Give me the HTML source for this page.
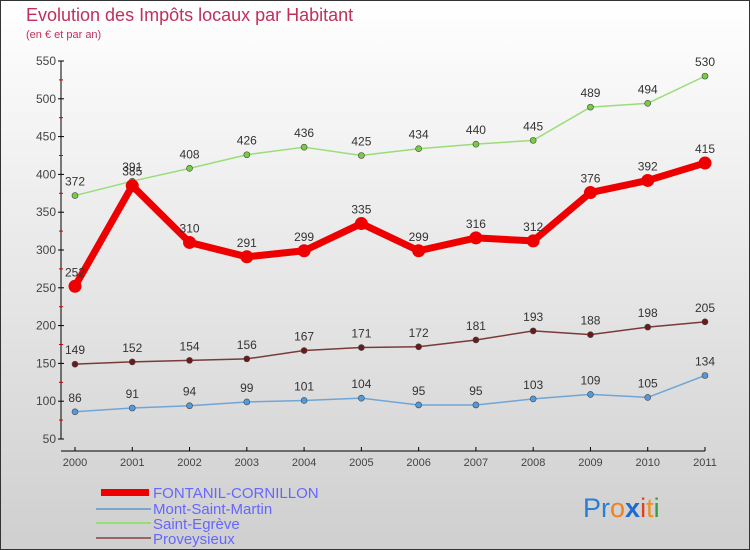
<!DOCTYPE html>
<html><head><meta charset="utf-8"><style>
body{margin:0}
#c{width:750px;height:550px;position:relative;overflow:hidden;font-family:"Liberation Sans",sans-serif}
</style></head><body>
<div id="c">
<svg id="s" width="750" height="550" xmlns="http://www.w3.org/2000/svg" font-family="Liberation Sans, sans-serif">
<defs><linearGradient id="bg" x1="0" y1="0" x2="0" y2="1"><stop offset="0" stop-color="#ffffff"/><stop offset="1" stop-color="#cfcfcf"/></linearGradient></defs>
<rect x="0.5" y="0.5" width="749" height="549" fill="url(#bg)" stroke="#333"/>
<text x="26" y="21" font-size="18" fill="#c0305a">Evolution des Impôts locaux par Habitant</text>
<text x="26" y="38" font-size="11" fill="#c0305a">(en € et par an)</text>
<g id="axes"></g><g id="series"></g>
<g font-size="15" fill="#6666ff">
<rect x="101" y="489" width="48" height="7" fill="#e00"/>
<text x="153" y="498">FONTANIL-CORNILLON</text>
<rect x="96" y="508" width="55" height="2" fill="#7aa8cc"/>
<text x="153" y="514">Mont-Saint-Martin</text>
<rect x="96" y="522" width="55" height="2" fill="#99dd77"/>
<text x="153" y="529">Saint-Egrève</text>
<rect x="96" y="537" width="55" height="2" fill="#996666"/>
<text x="153" y="544">Proveysieux</text>
</g>
<text x="583" y="517" font-size="27"><tspan fill="#2a7fd4">Pr</tspan><tspan fill="#f08020">o</tspan><tspan fill="#1e6ad0" font-weight="bold">x</tspan><tspan fill="#e04020">i</tspan><tspan fill="#f09020">t</tspan><tspan fill="#30a040">i</tspan></text>
</svg></div>
<script>
const years=["2000","2001","2002","2003","2004","2005","2006","2007","2008","2009","2010","2011"];
const yTicks=[50,100,150,200,250,300,350,400,450,500,550];
const fontanil=[252,385,310,291,299,335,299,316,312,376,392,415];
const mont=[86,91,94,99,101,104,95,95,103,109,105,134];
const egreve=[372,391,408,426,436,425,434,440,445,489,494,530];
const proveysieux=[149,152,154,156,167,171,172,181,193,188,198,205];
const NS="http://www.w3.org/2000/svg";
const X=i=>75+i*(630/11);
const Y=v=>61+(550-v)*0.756;
function mk(t,a,p){const e=document.createElementNS(NS,t);for(const k in a)e.setAttribute(k,a[k]);p.appendChild(e);return e;}
const ax=document.getElementById('axes');
let e=mk('line',{x1:61,y1:61,x2:61,y2:439,stroke:'#000'},ax);


e=mk('line',{x1:61,y1:451,x2:705,y2:451,stroke:'#000'},ax);


yTicks.forEach(v=>{
 mk('line',{x1:58,y1:Y(v),x2:64,y2:Y(v),stroke:'#000'},ax);
 if(v<550)mk('line',{x1:59,y1:Y(v+25),x2:63,y2:Y(v+25),stroke:'#c00'},ax);
 const t=mk('text',{x:56,y:Y(v)+4,'font-size':12,'text-anchor':'end',fill:'#444'},ax);t.textContent=v;
 
 
});
years.forEach((y,i)=>{
 mk('line',{x1:X(i),y1:447,x2:X(i),y2:451,stroke:'#000'},ax);
 const t=mk('text',{x:X(i),y:466,'font-size':11,'text-anchor':'middle',fill:'#444'},ax);t.textContent=y;
 
 
});
const sg=document.getElementById('series');
function draw(name,data,col,w,r,fill){
 const g=mk('g',{},sg);
 
 
 mk('polyline',{points:data.map((v,i)=>X(i)+','+Y(v)).join(' '),fill:'none',stroke:col,'stroke-width':w,'stroke-linejoin':'round'},g);
 data.forEach((v,i)=>{
  const c=mk('circle',{cx:X(i),cy:Y(v),r:r,fill:fill,stroke:'#444','stroke-width':w>3?0:0.6},g);
  
  
  const t=mk('text',{x:X(i),y:Y(v)-10,'font-size':12,'text-anchor':'middle',fill:'#333'},g);t.textContent=v;
  
  
 });
}
draw('mont',mont,'#6fa6d6',1.5,3,'#5599dd');
draw('proveysieux',proveysieux,'#7a3a3a',1.5,3,'#6a1a1a');
draw('egreve',egreve,'#99dd77',1.5,3,'#77cc44');
draw('fontanil',fontanil,'#ee0000',7,6.5,'#ee0000');
</script>
</body></html>
